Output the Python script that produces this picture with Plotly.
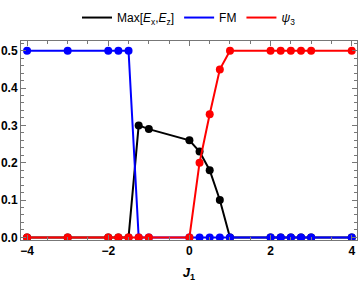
import plotly.graph_objects as go

J1 = [-4, -3, -2, -1.75, -1.5, -1.25, -1, 0, 0.25, 0.5, 0.75, 1, 2, 2.25, 2.5, 2.75, 3, 4]
max_e = [0, 0, 0, 0, 0, 0.30, 0.29, 0.26, 0.23, 0.18, 0.10, 0, 0, 0, 0, 0, 0, 0]
fm = [0.5, 0.5, 0.5, 0.5, 0.5, 0, 0, 0, 0, 0, 0, 0, 0, 0, 0, 0, 0, 0]
psi3 = [0, 0, 0, 0, 0, 0, 0, 0, 0.2, 0.33, 0.45, 0.5, 0.5, 0.5, 0.5, 0.5, 0.5, 0.5]

names = ["Max[<i>E</i><sub>x</sub>,<i>E</i><sub>z</sub>]", "FM", "<i>ψ</i><sub>3</sub>"]
colors = ["#000000", "#0000ff", "#ff0000"]
series = [max_e, fm, psi3]

fig = go.Figure()
for ys, c in zip(series, colors):
    fig.add_trace(go.Scatter(x=J1, y=ys, mode="lines+markers",
                             line=dict(color=c, width=2),
                             marker=dict(color=c, size=8),
                             showlegend=False, hoverinfo="skip"))
for n, c in zip(names, colors):
    fig.add_trace(go.Scatter(x=[None], y=[None], mode="lines", name=n,
                             line=dict(color=c, width=2)))

axis_common = dict(showgrid=False, zeroline=False, showline=True, linecolor="#777777",
                   linewidth=1, mirror="allticks", ticks="inside", ticklen=5,
                   tickcolor="#777777", tickwidth=1, automargin=False,
                   tickfont=dict(family="Liberation Sans, Arial", size=12, color="#000000", weight="bold"))

fig.update_xaxes(range=[-4.15, 4.13], tickmode="array", tickvals=[-4, -2, 0, 2, 4],
                 minor=dict(ticks="inside", ticklen=3, dtick=0.5, tick0=0, tickcolor="#777777", showgrid=False),
                 title=dict(text="<b><i>J</i><sub>1</sub></b>", standoff=12,
                            font=dict(family="Liberation Sans, Arial", size=13, color="#000000")),
                 **axis_common)
fig.update_yaxes(range=[-0.007, 0.526], tickmode="array", tickvals=[0, 0.1, 0.2, 0.3, 0.4, 0.5],
                 ticktext=["0.0", "0.1", "0.2", "0.3", "0.4", "0.5"],
                 minor=dict(ticks="inside", ticklen=3, dtick=0.02, tick0=0, tickcolor="#777777", showgrid=False),
                 **axis_common)

fig.update_layout(width=360, height=282, margin=dict(l=21, r=3, t=32, b=42),
                  plot_bgcolor="white", paper_bgcolor="white",
                  legend=dict(orientation="h", x=0.5, xanchor="center", y=1.045, yanchor="bottom",
                              font=dict(family="Liberation Sans, Arial", size=12, color="#000000"),
                              itemwidth=30, tracegroupgap=0, bgcolor="rgba(0,0,0,0)"),
                  )
fig.write_html("out.html", config={"displayModeBar": False},
               post_script="document.body.style.margin='0';")
